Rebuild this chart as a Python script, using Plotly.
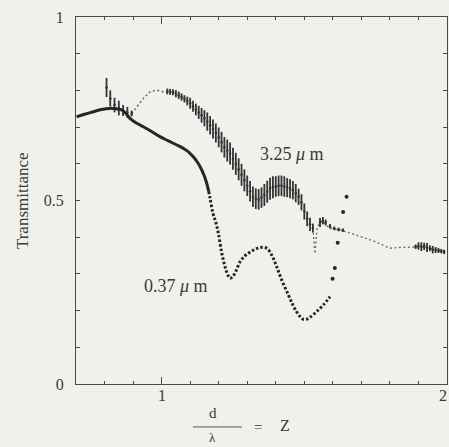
import plotly.graph_objects as go

# ---- 0.37 um series (solid part, dotted part, scattered tail points) ----
x037_solid = [0.702, 0.73, 0.761, 0.79, 0.819, 0.84, 0.86, 0.875, 0.889, 0.91, 0.936, 0.965,
              0.994, 1.02, 1.041, 1.06, 1.076, 1.095, 1.111, 1.125, 1.135, 1.148, 1.158, 1.165]
y037_solid = [0.728, 0.735, 0.742, 0.748, 0.751, 0.750, 0.747, 0.737, 0.724, 0.712, 0.701, 0.688,
              0.674, 0.664, 0.656, 0.649, 0.642, 0.632, 0.619, 0.605, 0.592, 0.570, 0.547, 0.525]
x037_dot = [1.165, 1.17, 1.18, 1.19, 1.199, 1.211, 1.222, 1.232, 1.24, 1.248, 1.257, 1.275, 1.29,
            1.304, 1.325, 1.345, 1.368, 1.386, 1.403, 1.421, 1.444, 1.46, 1.473, 1.485, 1.497,
            1.51, 1.52, 1.543, 1.566, 1.59]
y037_dot = [0.525, 0.505, 0.465, 0.44, 0.41, 0.356, 0.32, 0.297, 0.288, 0.292, 0.302, 0.333, 0.348,
            0.356, 0.366, 0.372, 0.370, 0.351, 0.320, 0.283, 0.243, 0.215, 0.197, 0.184, 0.176,
            0.177, 0.182, 0.197, 0.215, 0.238]
x037_pts = [1.599, 1.607, 1.617, 1.636, 1.648]
y037_pts = [0.287, 0.316, 0.385, 0.469, 0.51]

# ---- 3.25 um series: noisy segments (centre +/- jitter) and smooth dotted segments ----
x325_noise = [0.807, 0.82, 0.835, 0.85, 0.865, 0.88, 0.895,
              1.02, 1.03, 1.04, 1.05, 1.06, 1.07, 1.08, 1.09, 1.10, 1.11, 1.12, 1.13, 1.14, 1.15,
              1.16, 1.17, 1.18, 1.19, 1.20, 1.21, 1.22, 1.23, 1.24, 1.25, 1.26, 1.27, 1.28, 1.29,
              1.30, 1.31, 1.32, 1.33, 1.34, 1.35, 1.36, 1.37, 1.38, 1.39, 1.40, 1.41, 1.42, 1.43,
              1.44, 1.45, 1.46, 1.47, 1.48, 1.49, 1.50, 1.51, 1.52, 1.53,
              1.555, 1.565, 1.575, 1.59, 1.605, 1.62, 1.635,
              1.89, 1.90, 1.91, 1.92, 1.93, 1.94, 1.95, 1.96, 1.97, 1.98, 1.99]
y325_noise = [0.808, 0.778, 0.760, 0.752, 0.745, 0.740, 0.737,
              0.797, 0.796, 0.795, 0.791, 0.787, 0.782, 0.777, 0.771, 0.765, 0.757, 0.748, 0.740,
              0.732, 0.724, 0.715, 0.705, 0.695, 0.684, 0.672, 0.659, 0.645, 0.636, 0.628, 0.614,
              0.600, 0.585, 0.570, 0.555, 0.540, 0.525, 0.510, 0.505, 0.503, 0.508, 0.515, 0.524,
              0.532, 0.536, 0.538, 0.540, 0.540, 0.538, 0.535, 0.532, 0.528, 0.520, 0.510, 0.495,
              0.470, 0.450, 0.435, 0.425,
              0.440, 0.445, 0.440, 0.430, 0.424, 0.421, 0.419,
              0.374, 0.376, 0.374, 0.375, 0.372, 0.370, 0.366, 0.365, 0.364, 0.362, 0.360]
amp325_noise = [0.026, 0.022, 0.020, 0.020, 0.015, 0.015, 0.008,
                0.008, 0.008, 0.008, 0.010, 0.010, 0.010, 0.010, 0.012, 0.015, 0.015, 0.016, 0.018,
                0.020, 0.022, 0.025, 0.025, 0.026, 0.026, 0.027, 0.028, 0.028, 0.030, 0.030, 0.030,
                0.030, 0.030, 0.030, 0.030, 0.028, 0.028, 0.028, 0.028, 0.028, 0.028, 0.030, 0.030,
                0.030, 0.030, 0.028, 0.028, 0.028, 0.028, 0.026, 0.026, 0.025, 0.025, 0.022, 0.022,
                0.022, 0.020, 0.018, 0.012,
                0.012, 0.010, 0.008, 0.006, 0.005, 0.005, 0.005,
                0.006, 0.010, 0.012, 0.010, 0.012, 0.008, 0.010, 0.008, 0.007, 0.006, 0.006]
x325_dotA = [0.895, 0.913, 0.936, 0.959, 0.983, 1.006, 1.02]
y325_dotA = [0.737, 0.756, 0.778, 0.796, 0.801, 0.796, 0.797]
x325_dotB = [1.53, 1.537, 1.545, 1.555, 1.565, 1.58, 1.60, 1.625, 1.65, 1.683, 1.72, 1.742, 1.77,
             1.80, 1.83, 1.858, 1.89, 1.917, 1.952, 1.987, 2.0]
y325_dotB = [0.425, 0.355, 0.425, 0.440, 0.445, 0.430, 0.422, 0.420, 0.414, 0.406, 0.396, 0.390,
             0.380, 0.370, 0.372, 0.373, 0.374, 0.374, 0.367, 0.360, 0.360]

# tick labels
x_tickvals = [1, 2]
x_ticktext = ["1", "2"]
y_tickvals = [0, 0.5, 1]
y_ticktext = ["0", "0.5", "1"]

SERIF = "Liberation Serif, Times New Roman, serif"
INK = "#262626"
GREY = "#6e6e6e"
TXT = "#3a3a3a"

fig = go.Figure()

# 3.25 um smooth dotted parts
fig.add_trace(go.Scatter(x=x325_dotA, y=y325_dotA, mode="lines",
                         line=dict(color=GREY, width=1.6, dash="2px,2.5px"),
                         hoverinfo="skip", showlegend=False))
fig.add_trace(go.Scatter(x=x325_dotB, y=y325_dotB, mode="lines",
                         line=dict(color=GREY, width=1.4, dash="2px,2.5px"),
                         hoverinfo="skip", showlegend=False))
# 3.25 um noisy parts
fig.add_trace(go.Scatter(x=x325_noise, y=y325_noise, mode="markers",
                         marker=dict(color="#333333", size=2.5),
                         error_y=dict(type="data", array=amp325_noise, symmetric=True,
                                      color="#333333", thickness=1.8, width=0),
                         hoverinfo="skip", showlegend=False))

# 0.37 um
fig.add_trace(go.Scatter(x=x037_solid, y=y037_solid, mode="lines",
                         line=dict(color=INK, width=3, shape="spline"),
                         hoverinfo="skip", showlegend=False))
fig.add_trace(go.Scatter(x=x037_dot, y=y037_dot, mode="lines",
                         line=dict(color=INK, width=3, dash="2.5px,2px", shape="spline"),
                         hoverinfo="skip", showlegend=False))
fig.add_trace(go.Scatter(x=x037_pts, y=y037_pts, mode="markers",
                         marker=dict(color=INK, size=4),
                         hoverinfo="skip", showlegend=False))

# curve labels
fig.add_annotation(x=1.457, y=0.628, text="3.25 <i>μ</i> m", showarrow=False,
                   font=dict(family=SERIF, size=18, color=TXT))
fig.add_annotation(x=1.05, y=0.266, text="0.37 <i>μ</i> m", showarrow=False,
                   font=dict(family=SERIF, size=18, color=TXT))

# x tick labels (placed as text just under the axis)
for xv, xt in zip(x_tickvals, x_ticktext):
    fig.add_annotation(x=xv, xref="x", yref="paper", y=-0.03, text=xt, showarrow=False,
                       xanchor="right" if xv == x_tickvals[-1] else "center",
                       xshift=2 if xv == x_tickvals[-1] else 0,
                       yanchor="middle", font=dict(family=SERIF, size=16, color=TXT))

# y-axis title
fig.add_annotation(xref="paper", yref="paper", x=-0.1456, y=0.501, text="Transmittance",
                   textangle=-90, showarrow=False, xanchor="center", yanchor="middle",
                   font=dict(family=SERIF, size=17, color=TXT))

# x-axis title: d / lambda = Z
fig.add_annotation(xref="paper", yref="paper", x=0.369, y=-0.079, text="d", showarrow=False,
                   yanchor="middle", font=dict(family=SERIF, size=15, color=TXT))
fig.add_annotation(xref="paper", yref="paper", x=0.369, y=-0.146, text="λ", showarrow=False,
                   yanchor="middle", font=dict(family=SERIF, size=13, color=TXT))
fig.add_annotation(xref="paper", yref="paper", x=0.491, y=-0.117, text="=", showarrow=False,
                   yanchor="middle", font=dict(family=SERIF, size=15, color=TXT))
fig.add_annotation(xref="paper", yref="paper", x=0.563, y=-0.114, text="Z", showarrow=False,
                   yanchor="middle", font=dict(family=SERIF, size=16, color=TXT))
fig.add_shape(type="line", xref="paper", yref="paper", x0=0.315, x1=0.447, y0=-0.117, y1=-0.117,
              line=dict(color="#555555", width=1))

axis_common = dict(showgrid=False, zeroline=False, showline=True, linecolor="#4a4a4a",
                   linewidth=1.2, mirror="allticks", tickcolor="#4a4a4a",
                   tickfont=dict(family=SERIF, size=16, color=TXT))

fig.update_xaxes(range=[0.7, 2.0], tickmode="array", tickvals=x_tickvals, ticktext=x_ticktext,
                 showticklabels=False,
                 ticks="inside", ticklen=7, tickwidth=1.2,
                 minor=dict(dtick=0.1, tick0=0, ticks="inside", ticklen=3, tickcolor="#4a4a4a",
                            tickwidth=1),
                 **axis_common)
fig.update_yaxes(range=[0, 1], tickmode="array", tickvals=y_tickvals, ticktext=y_ticktext,
                 ticks="inside", ticklen=4, tickwidth=1, ticklabelstandoff=8,
                 minor=dict(dtick=0.1, tick0=0, ticks="inside", ticklen=4, tickcolor="#4a4a4a",
                            tickwidth=1),
                 **axis_common)

fig.update_layout(width=449, height=447,
                  margin=dict(l=76, r=2, t=17, b=63),
                  paper_bgcolor="#f0f0ec", plot_bgcolor="#f0f0ec",
                  showlegend=False)

# remove the page's default body margin / scrollbars so the figure fills the window
fig.write_html("out.html",
               config={"displayModeBar": False},
               post_script="document.body.style.margin='0';"
                           "document.body.style.overflow='hidden';"
                           "document.body.style.background='#f0f0ec';")
